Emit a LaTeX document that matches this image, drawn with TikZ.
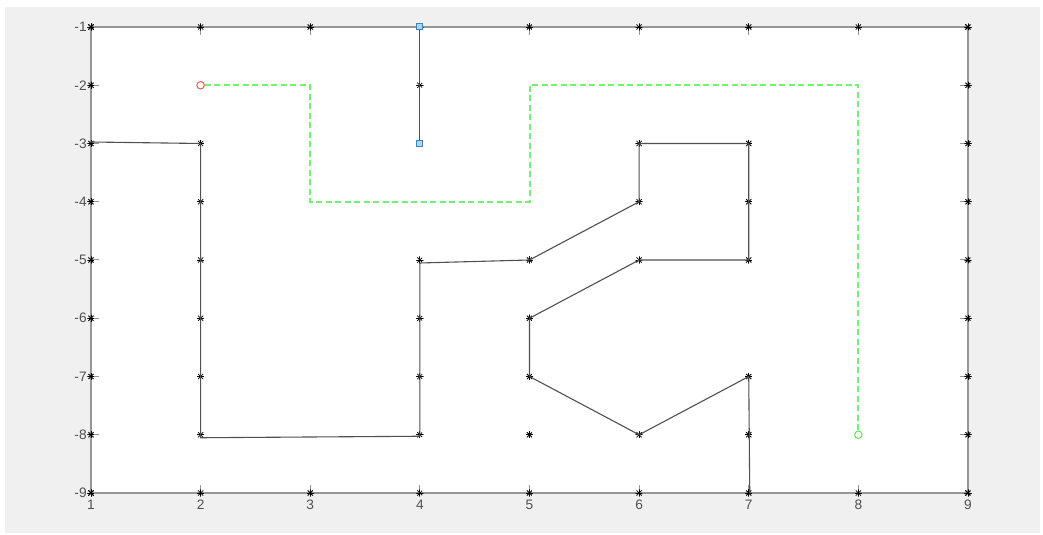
\documentclass[tikz,border=0pt]{standalone}
\usepackage{fontspec}
\setmainfont{Liberation Sans}
\definecolor{figbg}{RGB}{240,240,240}
\definecolor{axgray}{RGB}{150,150,150}
\definecolor{labgray}{RGB}{80,80,80}
\definecolor{wallgray}{RGB}{80,80,80}
\definecolor{routegreen}{RGB}{110,245,110}
\definecolor{startred}{RGB}{240,90,90}
\definecolor{goalgreen}{RGB}{90,225,90}
\definecolor{dooredge}{RGB}{60,130,200}
\definecolor{doorfill}{RGB}{175,215,245}
\tikzset{
  starmark/.style={circle, inner sep=0pt, minimum size=0.15cm,
    path picture={\foreach \a in {0,45,90,135}
      \draw[black, line width=0.016cm]
        ([shift={(\a:0.075cm)}]path picture bounding box.center) --
        ([shift={(\a+180:0.075cm)}]path picture bounding box.center);}},
  doormark/.style={rectangle, draw=dooredge, fill=doorfill, line width=0.02cm,
    inner sep=0pt, minimum size=0.12cm},
  startmark/.style={circle, draw=startred, line width=0.02cm, inner sep=0pt, minimum size=0.15cm},
  goalmark/.style={circle, draw=goalgreen, line width=0.02cm, inner sep=0pt, minimum size=0.15cm},
  wall/.style={draw=wallgray, line width=0.022cm},
  route/.style={draw=routegreen, line width=0.04cm, dash pattern=on 0.12cm off 0.07cm},
  xlab/.style={text=labgray, inner sep=0pt, yshift=-0.23cm, font=\fontsize{7.8}{8}\selectfont},
  ylab/.style={text=labgray, inner sep=0pt, anchor=east, xshift=-0.08cm, font=\fontsize{7.8}{8}\selectfont}
}
\begin{document}
\begin{tikzpicture}[x=2.1925cm, y=1.165cm]
\useasboundingbox (0.1699,-9.7210) rectangle (9.6842,-0.5365);
\fill[figbg] (0.2155,-9.6867) rectangle (9.6568,-0.6567);
\fill[white] (1,-9) rectangle (9,-1);
\draw[axgray, line width=0.03cm] (1,-9) rectangle (9,-1);
\foreach \i in {1,...,9} {
  \draw[axgray, line width=0.02cm] (\i,-1) -- ++(0,-0.16cm);
  \draw[axgray, line width=0.02cm] (\i,-9) -- ++(0,0.16cm);
  \draw[axgray, line width=0.02cm] (1,-\i) -- ++(0.16cm,0);
  \draw[axgray, line width=0.02cm] (9,-\i) -- ++(-0.16cm,0);
  \node[xlab] (xl\i) at (\i,-9) {\i};
  \node[ylab] (yl\i) at (1,-\i) {-\i};
  \node[starmark] (bt\i) at (\i,-1) {};
  \node[starmark] (bb\i) at (\i,-9) {};
  \node[starmark] (bl\i) at (1,-\i) {};
  \node[starmark] (br\i) at (9,-\i) {};
}
\node[starmark] (p23) at (2,-3) {};
\node[starmark] (p24) at (2,-4) {};
\node[starmark] (p25) at (2,-5) {};
\node[starmark] (p26) at (2,-6) {};
\node[starmark] (p27) at (2,-7) {};
\node[starmark] (p28) at (2,-8) {};
\node[starmark] (p42) at (4,-2) {};
\node[starmark] (p45) at (4,-5) {};
\node[starmark] (p46) at (4,-6) {};
\node[starmark] (p47) at (4,-7) {};
\node[starmark] (p48) at (4,-8) {};
\node[starmark] (p55) at (5,-5) {};
\node[starmark] (p56) at (5,-6) {};
\node[starmark] (p57) at (5,-7) {};
\node[starmark] (p58) at (5,-8) {};
\node[starmark] (p63) at (6,-3) {};
\node[starmark] (p64) at (6,-4) {};
\node[starmark] (p65) at (6,-5) {};
\node[starmark] (p68) at (6,-8) {};
\node[starmark] (p73) at (7,-3) {};
\node[starmark] (p74) at (7,-4) {};
\node[starmark] (p75) at (7,-5) {};
\node[starmark] (p77) at (7,-7) {};
\node[starmark] (p78) at (7,-8) {};
\node[doormark] (d1) at (4,-1) {};
\node[doormark] (d3) at (4,-3) {};
\node[startmark] (st) at (2,-2) {};
\node[goalmark] (gl) at (8,-8) {};
\coordinate (r32) at (3,-2);
\coordinate (r34) at (3,-4);
\coordinate (r54) at (5,-4);
\coordinate (r52) at (5,-2);
\coordinate (r82) at (8,-2);
\draw[wall] ([yshift=0.03cm]bl3.center) -- (p23.center) -- ([yshift=-0.06cm]p28.center)
  -- ([yshift=-0.03cm]p48.center) -- ([yshift=-0.06cm]p45.center) -- (p55.center)
  -- (p64.center) -- (p63.center) -- (p73.center) -- (p75.center) -- (p65.center)
  -- (p56.center) -- (p57.center) -- (p68.center) -- (p77.center) -- ([xshift=0.02cm]bb7.center);
\draw[wall] (d1) -- (d3);
\draw[route] (st) -- (r32) -- (r34) -- (r54) -- (r52) -- (r82) -- (gl);
\end{tikzpicture}
\end{document}
